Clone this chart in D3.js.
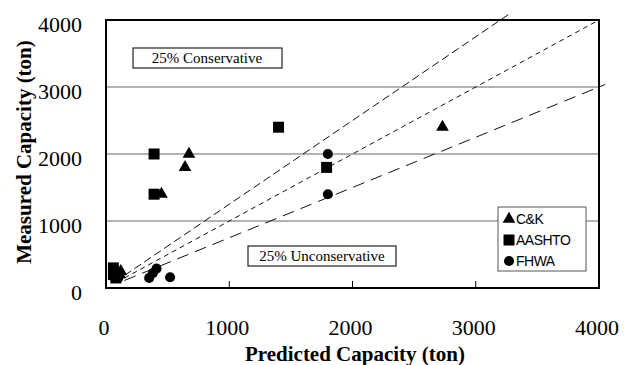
<!DOCTYPE html>
<html><head><meta charset="utf-8">
<script src="https://cdn.jsdelivr.net/npm/d3@7/dist/d3.min.js"></script>
<style>body{margin:0;background:#fff}svg{display:block}</style>
</head><body>
<svg id="c" width="630" height="365"></svg>
<script>
// Data
const xTicks = [0, 1000, 2000, 3000, 4000];
const yTicks = [0, 1000, 2000, 3000, 4000];
const ckX = [2730, 673, 641, 450, 120, 110];
const ckY = [2400, 2000, 1800, 1400, 250, 200];
const aashtoX = [1400, 390, 390, 1790, 60, 60, 80];
const aashtoY = [2400, 2000, 1400, 1800, 300, 200, 150];
const fhwaX = [1800, 1800, 350, 380, 410, 520, 100];
const fhwaY = [2000, 1400, 150, 220, 290, 160, 150];
const ratioSlopes = [1.25, 1.0, 0.75];
const ratioEndX = [3280, 4000, 4050];
const seriesNames = ["C&K", "AASHTO", "FHWA"];
const boxLabels = ["25% Conservative", "25% Unconservative"];

const svg = d3.select("#c");
const L = 106, R = 599, T = 20, B = 288;
const x = d3.scaleLinear().domain([0, 4000]).range([L, R]);
const y = d3.scaleLinear().domain([0, 4000]).range([B, T]);

// gridlines
svg.append("g").selectAll("line").data(yTicks.filter(v => v > 0 && v < 4000)).join("line")
  .attr("x1", L).attr("x2", R).attr("y1", d => y(d)).attr("y2", d => y(d))
  .attr("stroke", "#666").attr("stroke-width", 1);

// inner ticks
svg.append("g").selectAll("line").data(xTicks.filter(v => v > 0 && v < 4000)).join("line")
  .attr("x1", d => x(d)).attr("x2", d => x(d)).attr("y1", B).attr("y2", B - 7)
  .attr("stroke", "#000").attr("stroke-width", 1);

// ratio lines
const dashes = ["8,4", "5,4", "12,7"];
svg.append("g").selectAll("line").data(ratioSlopes).join("line")
  .attr("x1", (d) => x(150)).attr("y1", d => y(150 * d))
  .attr("x2", (d, i) => x(ratioEndX[i])).attr("y2", (d, i) => y(ratioEndX[i] * d))
  .attr("stroke", "#111").attr("stroke-width", 1)
  .attr("stroke-dasharray", (d, i) => dashes[i]);

// text boxes
const boxes = [
  {lx: 133, ly: 48, w: 149, h: 20, cx: 207},
  {lx: 248, ly: 246, w: 148, h: 20, cx: 322}
];
boxes.forEach((b, i) => {
  svg.append("rect").attr("x", b.lx).attr("y", b.ly).attr("width", b.w).attr("height", b.h)
    .attr("fill", "#fff").attr("stroke", "#222").attr("stroke-width", 1.2);
  svg.append("text").attr("x", b.cx).attr("y", b.ly + 15).attr("text-anchor", "middle")
    .attr("font-family", "Liberation Serif, Times New Roman, serif").attr("font-size", 15)
    .text(boxLabels[i]);
});

// markers
const symTri = d3.symbol().type(d3.symbolTriangle).size(70);
const symSq = d3.symbol().type(d3.symbolSquare).size(121);
const symCir = d3.symbol().type(d3.symbolCircle).size(80);
const series = [
  {xs: ckX, ys: ckY, sym: symTri},
  {xs: aashtoX, ys: aashtoY, sym: symSq},
  {xs: fhwaX, ys: fhwaY, sym: symCir}
];
series.forEach(s => {
  svg.append("g").selectAll("path").data(s.xs.map((v, i) => [v, s.ys[i]])).join("path")
    .attr("d", s.sym()).attr("transform", d => `translate(${x(d[0])},${y(d[1])})`)
    .attr("fill", "#000");
});

// frame
svg.append("rect").attr("x", L).attr("y", T).attr("width", R - L).attr("height", B - T)
  .attr("fill", "none").attr("stroke", "#000").attr("stroke-width", 2);

// legend
const lg = svg.append("g");
lg.append("rect").attr("x", 498).attr("y", 207).attr("width", 88).attr("height", 64)
  .attr("fill", "#fff").attr("stroke", "#555").attr("stroke-width", 1);
series.forEach((s, i) => {
  const cy = 219 + i * 21;
  lg.append("path").attr("d", s.sym()).attr("transform", `translate(509,${cy})`).attr("fill", "#000");
  lg.append("text").attr("x", 516).attr("y", cy + 5).attr("font-family", "Liberation Sans, Arial, sans-serif")
    .attr("font-size", 14).attr("letter-spacing", -0.5).text(seriesNames[i]);
});

// tick labels
svg.append("g").selectAll("text").data(yTicks).join("text")
  .attr("x", 82).attr("y", d => y(d) + 12).attr("text-anchor", "end")
  .attr("font-family", "Liberation Serif, Times New Roman, serif").attr("font-size", 22)
  .text(d => d);
svg.append("g").selectAll("text").data(xTicks).join("text")
  .attr("x", d => x(d) - 2).attr("y", 335).attr("text-anchor", "middle")
  .attr("font-family", "Liberation Serif, Times New Roman, serif").attr("font-size", 22)
  .text(d => d);

// axis titles
svg.append("text").attr("x", 355).attr("y", 361).attr("text-anchor", "middle")
  .attr("font-family", "Liberation Serif, Times New Roman, serif").attr("font-size", 21).attr("font-weight", "bold")
  .text("Predicted Capacity (ton)");
svg.append("text").attr("transform", "translate(31,152) rotate(-90)").attr("text-anchor", "middle")
  .attr("font-family", "Liberation Serif, Times New Roman, serif").attr("font-size", 21).attr("font-weight", "bold")
  .text("Measured Capacity (ton)");
</script>
</body></html>
